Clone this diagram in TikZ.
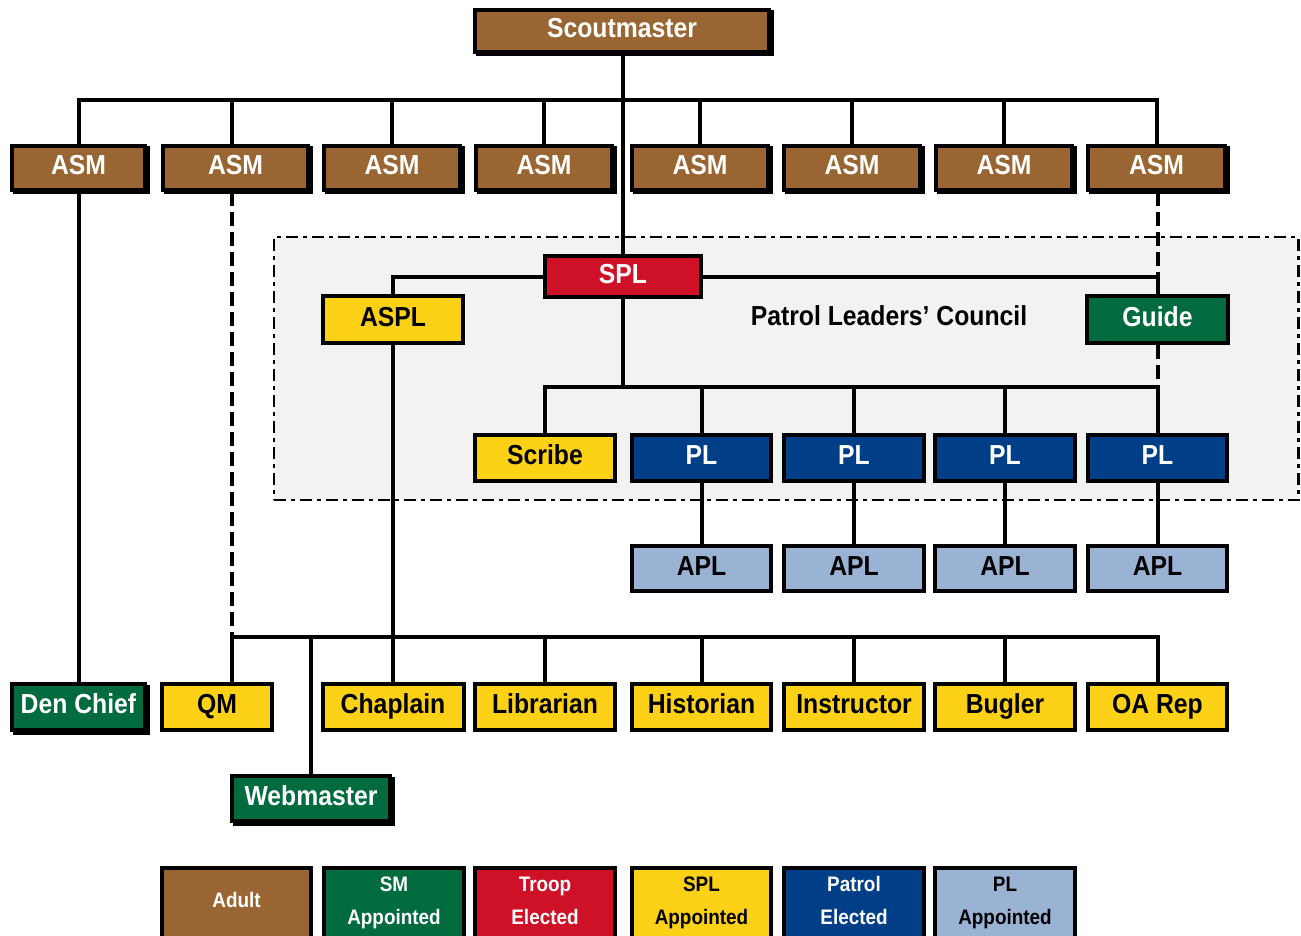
\documentclass[tikz,border=0pt]{standalone}
\usepackage{fontspec}
\setmainfont{Liberation Sans}[FakeStretch=0.9]
\usetikzlibrary{calc}
\definecolor{cadult}{HTML}{996633}
\definecolor{cgreen}{HTML}{006B3F}
\definecolor{cred}{HTML}{CE1126}
\definecolor{cyellow}{HTML}{FCD116}
\definecolor{cblue}{HTML}{003F87}
\definecolor{clight}{HTML}{9AB3D5}
\definecolor{cplc}{HTML}{F2F2F2}
\tikzset{
  bx/.style={draw=black, line width=4pt, inner sep=0pt, text height=19.7pt, text depth=6pt,
    font=\fontsize{27.5}{30}\selectfont\bfseries},
  shd/.style={preaction={fill=black, draw=black, transform canvas={shift={(2.5pt,-2.5pt)}}}},
  brownbox/.style={bx, fill=cadult, text=white},
  greenbox/.style={bx, fill=cgreen, text=white},
  redbox/.style={bx, fill=cred, text=white},
  yellowbox/.style={bx, fill=cyellow, text=black},
  bluebox/.style={bx, fill=cblue, text=white},
  lightbox/.style={bx, fill=clight, text=black},
  legbox/.style={draw=black, line width=4pt, inner sep=0pt, minimum height=100pt,
    font=\fontsize{21}{24}\selectfont\bfseries},
  conn/.style={line width=4pt},
  dconn/.style={line width=4pt, dash pattern=on 14pt off 6pt},
}
\newcommand\legtwo[2]{\makebox[0pt]{\raisebox{26.5pt}[0pt][0pt]{#1}}\makebox[0pt]{\raisebox{-6.5pt}[0pt][0pt]{#2}}}
\newcommand\legone[1]{\makebox[0pt]{\raisebox{10.5pt}[0pt][0pt]{#1}}}
\begin{document}
\begin{tikzpicture}[x=1pt, y=-1pt]
\useasboundingbox (0,0) rectangle (1301,936);
% Patrol Leaders' Council region
\node[draw=black, line width=2.5pt, dash pattern=on 12pt off 5pt on 4pt off 5pt, fill=cplc,
  minimum width=1024.5pt, minimum height=263pt, inner sep=0pt] (plc) at (786,368.5) {};
\node[font=\fontsize{27.5}{30}\selectfont\bfseries, text height=19.7pt, text depth=0pt, inner sep=0pt] (plctext) at (889,316) {Patrol Leaders' Council};

% coordinates for buses
\coordinate (y1) at (0,100);
\coordinate (y2) at (0,387);
\coordinate (y3) at (0,637);
\coordinate (k2) at (232,0);

% Scoutmaster
\node[brownbox, shd, minimum width=294pt, minimum height=42pt] (sm) at (622,31) {Scoutmaster};
% ASM row
\node[brownbox, shd, minimum width=133pt, minimum height=44pt] (asm1) at (78.5,168) {ASM};
\node[brownbox, shd, minimum width=145pt, minimum height=44pt] (asm2) at (235.5,168) {ASM};
\node[brownbox, shd, minimum width=136pt, minimum height=44pt] (asm3) at (392,168) {ASM};
\node[brownbox, shd, minimum width=136pt, minimum height=44pt] (asm4) at (544,168) {ASM};
\node[brownbox, shd, minimum width=136pt, minimum height=44pt] (asm5) at (700,168) {ASM};
\node[brownbox, shd, minimum width=136pt, minimum height=44pt] (asm6) at (852,168) {ASM};
\node[brownbox, shd, minimum width=136pt, minimum height=44pt] (asm7) at (1004,168) {ASM};
\node[brownbox, shd, minimum width=137pt, minimum height=44pt] (asm8) at (1156.5,168) {ASM};
% SPL, ASPL, Guide
\node[redbox, minimum width=156pt, minimum height=41pt] (spl) at (623,276.5) {SPL};
\node[yellowbox, minimum width=140pt, minimum height=47pt] (aspl) at (393,319.5) {ASPL};
\node[greenbox, minimum width=141pt, minimum height=47pt] (guide) at (1157.5,319.5) {Guide};
% Scribe and PL row
\node[yellowbox, minimum width=140pt, minimum height=46pt] (scribe) at (545,458) {Scribe};
\node[bluebox, minimum width=139pt, minimum height=46pt] (pl1) at (701.5,458) {PL};
\node[bluebox, minimum width=140pt, minimum height=46pt] (pl2) at (854,458) {PL};
\node[bluebox, minimum width=140pt, minimum height=46pt] (pl3) at (1005,458) {PL};
\node[bluebox, minimum width=139pt, minimum height=46pt] (pl4) at (1157.5,458) {PL};
% APL row
\node[lightbox, minimum width=139pt, minimum height=45pt] (apl1) at (701.5,568.5) {APL};
\node[lightbox, minimum width=140pt, minimum height=45pt] (apl2) at (854,568.5) {APL};
\node[lightbox, minimum width=140pt, minimum height=45pt] (apl3) at (1005,568.5) {APL};
\node[lightbox, minimum width=139pt, minimum height=45pt] (apl4) at (1157.5,568.5) {APL};
% bottom row
\node[greenbox, shd, minimum width=133pt, minimum height=46pt] (den) at (78.5,707) {Den Chief};
\node[yellowbox, minimum width=110pt, minimum height=46pt] (qm) at (217,707) {QM};
\node[yellowbox, minimum width=141pt, minimum height=46pt] (chap) at (393,707) {Chaplain};
\node[yellowbox, minimum width=140pt, minimum height=46pt] (lib) at (545,707) {Librarian};
\node[yellowbox, minimum width=139pt, minimum height=46pt] (hist) at (701.5,707) {Historian};
\node[yellowbox, minimum width=140pt, minimum height=46pt] (instr) at (854,707) {Instructor};
\node[yellowbox, minimum width=140pt, minimum height=46pt] (bug) at (1005,707) {Bugler};
\node[yellowbox, minimum width=139pt, minimum height=46pt] (oa) at (1157.5,707) {OA Rep};
% Webmaster
\node[greenbox, shd, minimum width=158pt, minimum height=45pt] (web) at (311,798.5) {Webmaster};
% Legend
\node[legbox, fill=cadult, text=white, minimum width=149pt] (lg1) at (236.5,918) {\legone{Adult}};
\node[legbox, fill=cgreen, text=white, minimum width=140pt] (lg2) at (394,918) {\legtwo{SM}{Appointed}};
\node[legbox, fill=cred, text=white, minimum width=140pt] (lg3) at (545,918) {\legtwo{Troop}{Elected}};
\node[legbox, fill=cyellow, text=black, minimum width=139pt] (lg4) at (701.5,918) {\legtwo{SPL}{Appointed}};
\node[legbox, fill=cblue, text=white, minimum width=140pt] (lg5) at (854,918) {\legtwo{Patrol}{Elected}};
\node[legbox, fill=clight, text=black, minimum width=140pt] (lg6) at (1005,918) {\legtwo{PL}{Appointed}};

% connectors
\draw[conn] (spl.north |- sm.south) -- (spl.north);
\draw[conn] (asm1.north) -- (asm1.north |- y1) -- (asm8.north |- y1) -- (asm8.north);
\foreach \n in {asm3,asm4,asm5,asm6,asm7} \draw[conn] (\n.north) -- (\n.north |- y1);
\draw[conn] (asm2.north -| k2) -- (k2 |- y1);
\draw[conn] (asm1.south) -- (den.north);
\draw[dconn] (asm2.south -| k2) -- (k2 |- y3);
\draw[conn] (k2 |- y3) -- (qm.north -| k2);
\draw[conn] (spl.west) -| (aspl.north);
\draw[conn] (spl.east) -| (guide.north);
\draw[dconn] (guide.north |- asm8.south) -- (guide.north |- spl.east);
\draw[dconn] (guide.south) -- (guide.south |- y2);
\draw[conn] (spl.south) -- (spl.south |- y2);
\draw[conn] (scribe.north) -- (scribe.north |- y2) -- (pl4.north |- y2) -- (pl4.north);
\foreach \n in {pl1,pl2,pl3} \draw[conn] (\n.north) -- (\n.north |- y2);
\draw[conn] (pl1.south) -- (apl1.north);
\draw[conn] (pl2.south) -- (apl2.north);
\draw[conn] (pl3.south) -- (apl3.north);
\draw[conn] (pl4.south) -- (apl4.north);
\draw[conn] (aspl.south) -- (aspl.south |- chap.north);
\draw[conn] (k2 |- y3) -- (oa.north |- y3) -- (oa.north);
\foreach \n in {web,lib,hist,instr,bug} \draw[conn] (\n.north) -- (\n.north |- y3);
\end{tikzpicture}
\end{document}
